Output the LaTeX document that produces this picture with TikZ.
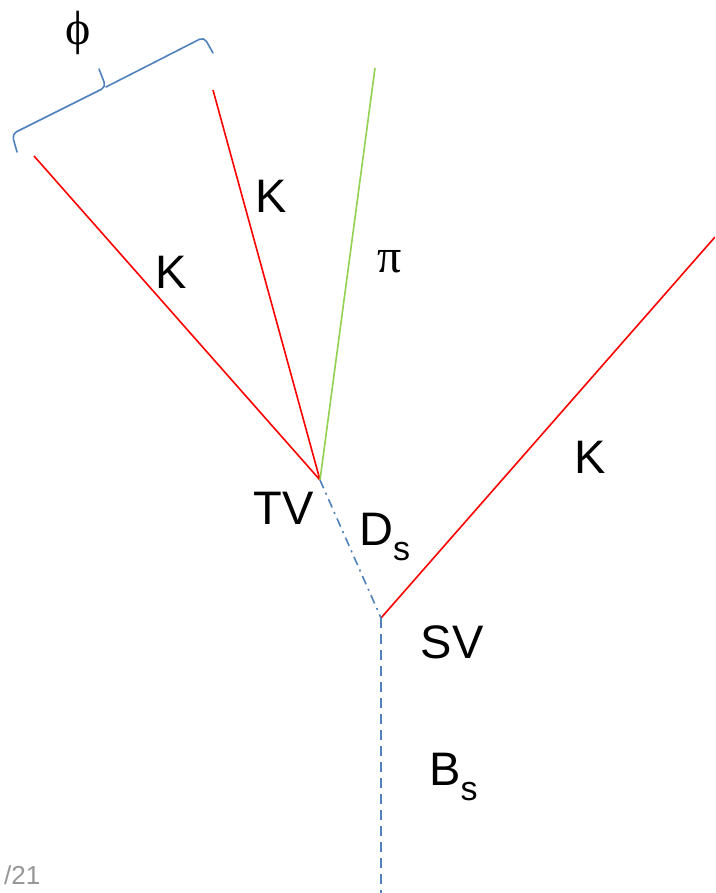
\documentclass[tikz,border=0pt]{standalone}
\usepackage{fontspec}
\setmainfont{Liberation Sans}
\newfontfamily\greekfont{Liberation Serif}
\definecolor{trkred}{RGB}{255,0,0}
\definecolor{trkgreen}{RGB}{146,208,80}
\definecolor{trkblue}{RGB}{79,129,189}
\definecolor{pagegray}{RGB}{150,150,150}
\tikzset{
  track/.style={line width=1.6pt},
  kaon/.style={track, trkred},
  pion/.style={track, trkgreen},
  dsline/.style={line width=1.6pt, trkblue, dash pattern=on 9pt off 5pt on 2pt off 5pt},
  bsline/.style={line width=1.6pt, trkblue, dash pattern=on 10pt off 6pt},
  bracestroke/.style={line width=1.6pt, trkblue, rounded corners=5pt, line cap=round},
  lbl/.style={inner sep=0pt, font=\fontsize{47}{50}\selectfont},
  glbl/.style={inner sep=0pt, font=\greekfont\fontsize{48}{52}\selectfont},
}
\newcommand{\subs}{\raisebox{-0.3em}{\fontsize{34}{34}\selectfont s}}
\begin{document}
\begin{tikzpicture}[x=1pt,y=-1pt]
\clip (0,0) rectangle (715,893);
\useasboundingbox (0,0) rectangle (715,893);

% vertices and track ends
\coordinate (tv) at (320,480);
\coordinate (sv) at (381,618);
\coordinate (bsend) at (381,893);
\coordinate (k1end) at (34,156);
\coordinate (k2end) at (213,90);
\coordinate (piend) at (375,68);
\coordinate (k3end) at (715,237);

% tracks
\draw[kaon] (tv) -- (k1end);
\draw[kaon] (tv) -- (k2end);
\draw[pion] (tv) -- (piend);
\draw[kaon] (sv) -- (k3end);
\draw[dsline] (tv) -- (sv);
\draw[bsline] (sv) -- (bsend);

% phi brace over the two kaons
\coordinate (brA) at (17,152);
\coordinate (brAc) at (12,134);
\coordinate (brM) at (106,87);
\coordinate (brT) at (99,69);
\coordinate (brBc) at (204,37);
\coordinate (brB) at (213,53);
\draw[bracestroke] (brA) -- (brAc) -- (brM) -- (brT);
\draw[bracestroke] (brM) -- (brBc) -- (brB);

% labels
\node[glbl] (phi) at (78,33) {ϕ};
\node[glbl] (pi) at (390,262) {π};
\node[lbl] (kmid) at (271,196) {K};
\node[lbl] (kleft) at (171,272) {K};
\node[lbl] (kright) at (590,457) {K};
\node[lbl] (tvl) at (284,508) {TV};
\node[lbl, anchor=west] (dsl) at (359,537) {D\subs};
\node[lbl] (svl) at (452,642) {SV};
\node[lbl, anchor=west] (bsl) at (429,777) {B\subs};
\node[inner sep=0pt, anchor=base west, text=pagegray, font=\fontsize{26}{28}\selectfont] (pg) at (4,884) {/21};
\end{tikzpicture}
\end{document}
